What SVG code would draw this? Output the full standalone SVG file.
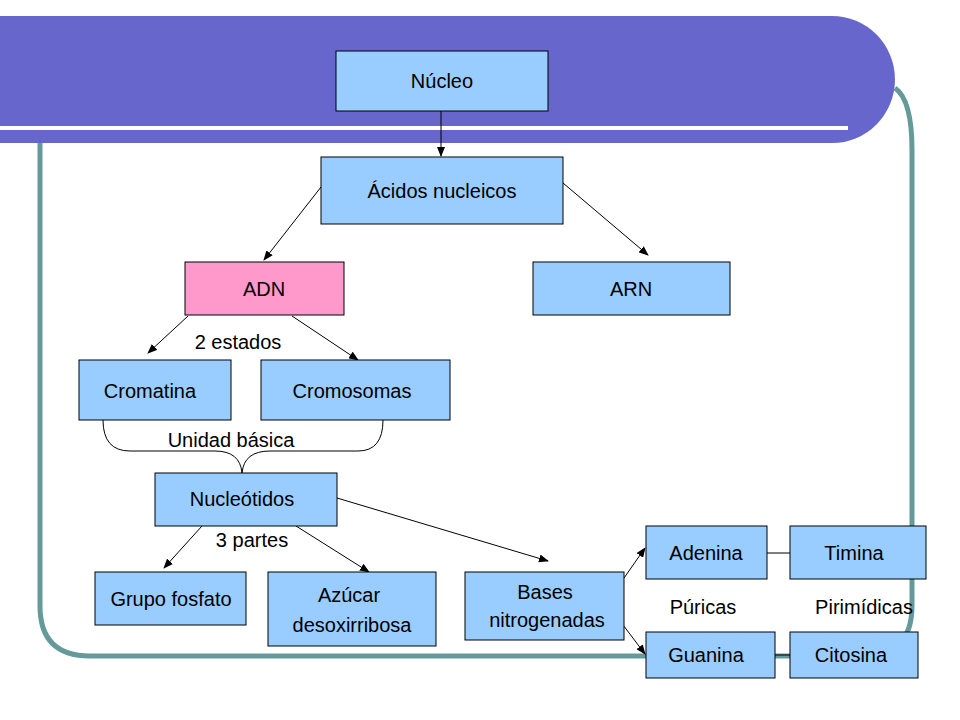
<svg xmlns="http://www.w3.org/2000/svg" width="960" height="720" viewBox="0 0 960 720">
<defs>
<marker id="ah" markerWidth="10" markerHeight="8" refX="9" refY="4" orient="auto" markerUnits="userSpaceOnUse"><path d="M0,0 L10,4 L0,8 z" fill="#000"/></marker>
<style>
.b{fill:#99ccff;stroke:#000;stroke-width:1}
.p{fill:#ff99cc;stroke:#000;stroke-width:1}
text{font-family:"Liberation Sans",Arial,sans-serif;font-size:20px;fill:#000;text-anchor:middle}
.c{stroke:#000;stroke-width:1;fill:none}
</style>
</defs>
<rect width="960" height="720" fill="#fff"/>
<path d="M40,143 V606 Q40,656 90,656 H862 Q912,656 912,606 V150 Q912,100 895,88" fill="none" stroke="#669999" stroke-width="5"/>
<path d="M0,16 H832 A63,63.5 0 0 1 832,143 H0 Z" fill="#6666cc"/>
<rect x="0" y="126" width="848" height="4" fill="#fff"/>
<g id="connectors">
<line class="c" x1="441" y1="111" x2="441" y2="156" marker-end="url(#ah)"/>
<line class="c" x1="321" y1="187" x2="264" y2="260" marker-end="url(#ah)"/>
<line class="c" x1="563" y1="183" x2="648" y2="255" marker-end="url(#ah)"/>
<line class="c" x1="188" y1="316" x2="148" y2="353" marker-end="url(#ah)"/>
<line class="c" x1="292" y1="316" x2="358" y2="360" marker-end="url(#ah)"/>
<line class="c" x1="202" y1="526" x2="164" y2="568" marker-end="url(#ah)"/>
<line class="c" x1="296" y1="526" x2="369" y2="572" marker-end="url(#ah)"/>
<line class="c" x1="337" y1="498" x2="548" y2="561" marker-end="url(#ah)"/>
<line class="c" x1="624" y1="578" x2="645" y2="548" marker-end="url(#ah)"/>
<line class="c" x1="617" y1="617" x2="645" y2="654" marker-end="url(#ah)"/>
<line class="c" x1="767" y1="553" x2="790" y2="553"/>
<line class="c" x1="775" y1="655" x2="798" y2="655"/>
<path class="c" d="M103,420 Q103,451 130,451 H215 Q240,451 242,473 Q244,451 270,451 H358 Q383,451 383,420"/>
</g>
<g id="nucleo"><rect class="b" x="336" y="51" width="212" height="60"/><text x="442" y="88">Núcleo</text></g>
<g id="acidos"><rect class="b" x="321" y="157" width="242" height="67"/><text x="442" y="198">Ácidos nucleicos</text></g>
<g id="adn"><rect class="p" x="185" y="262" width="159" height="53"/><text x="264" y="296">ADN</text></g>
<g id="arn"><rect class="b" x="533" y="262" width="197" height="53"/><text x="631" y="296">ARN</text></g>
<g id="cromatina"><rect class="b" x="79" y="360" width="152" height="60"/><text x="150" y="398">Cromatina</text></g>
<g id="cromosomas"><rect class="b" x="261" y="360" width="189" height="60"/><text x="352" y="398">Cromosomas</text></g>
<g id="nucleotidos"><rect class="b" x="155" y="473" width="182" height="53"/><text x="242" y="506">Nucleótidos</text></g>
<g id="fosfato"><rect class="b" x="95" y="572" width="151" height="53"/><text x="171" y="606">Grupo fosfato</text></g>
<g id="azucar"><rect class="b" x="268" y="572" width="168" height="74"/><text x="349" y="602">Azúcar</text><text x="352" y="632">desoxirribosa</text></g>
<g id="bases"><rect class="b" x="465" y="572" width="159" height="68"/><text x="545" y="599">Bases</text><text x="547" y="627">nitrogenadas</text></g>
<g id="adenina"><rect class="b" x="646" y="526" width="121" height="53"/><text x="706" y="560">Adenina</text></g>
<g id="timina"><rect class="b" x="790" y="526" width="136" height="53"/><text x="854" y="560">Timina</text></g>
<g id="guanina"><rect class="b" x="646" y="632" width="129" height="46"/><text x="706" y="662">Guanina</text></g>
<g id="citosina"><rect class="b" x="790" y="632" width="128" height="46"/><text x="851" y="662">Citosina</text></g>
<g id="labels">
<text x="238" y="349">2 estados</text>
<text x="231" y="447">Unidad básica</text>
<text x="252" y="547">3 partes</text>
<text x="703" y="614">Púricas</text>
<text x="864" y="614">Pirimídicas</text>
</g>
</svg>
